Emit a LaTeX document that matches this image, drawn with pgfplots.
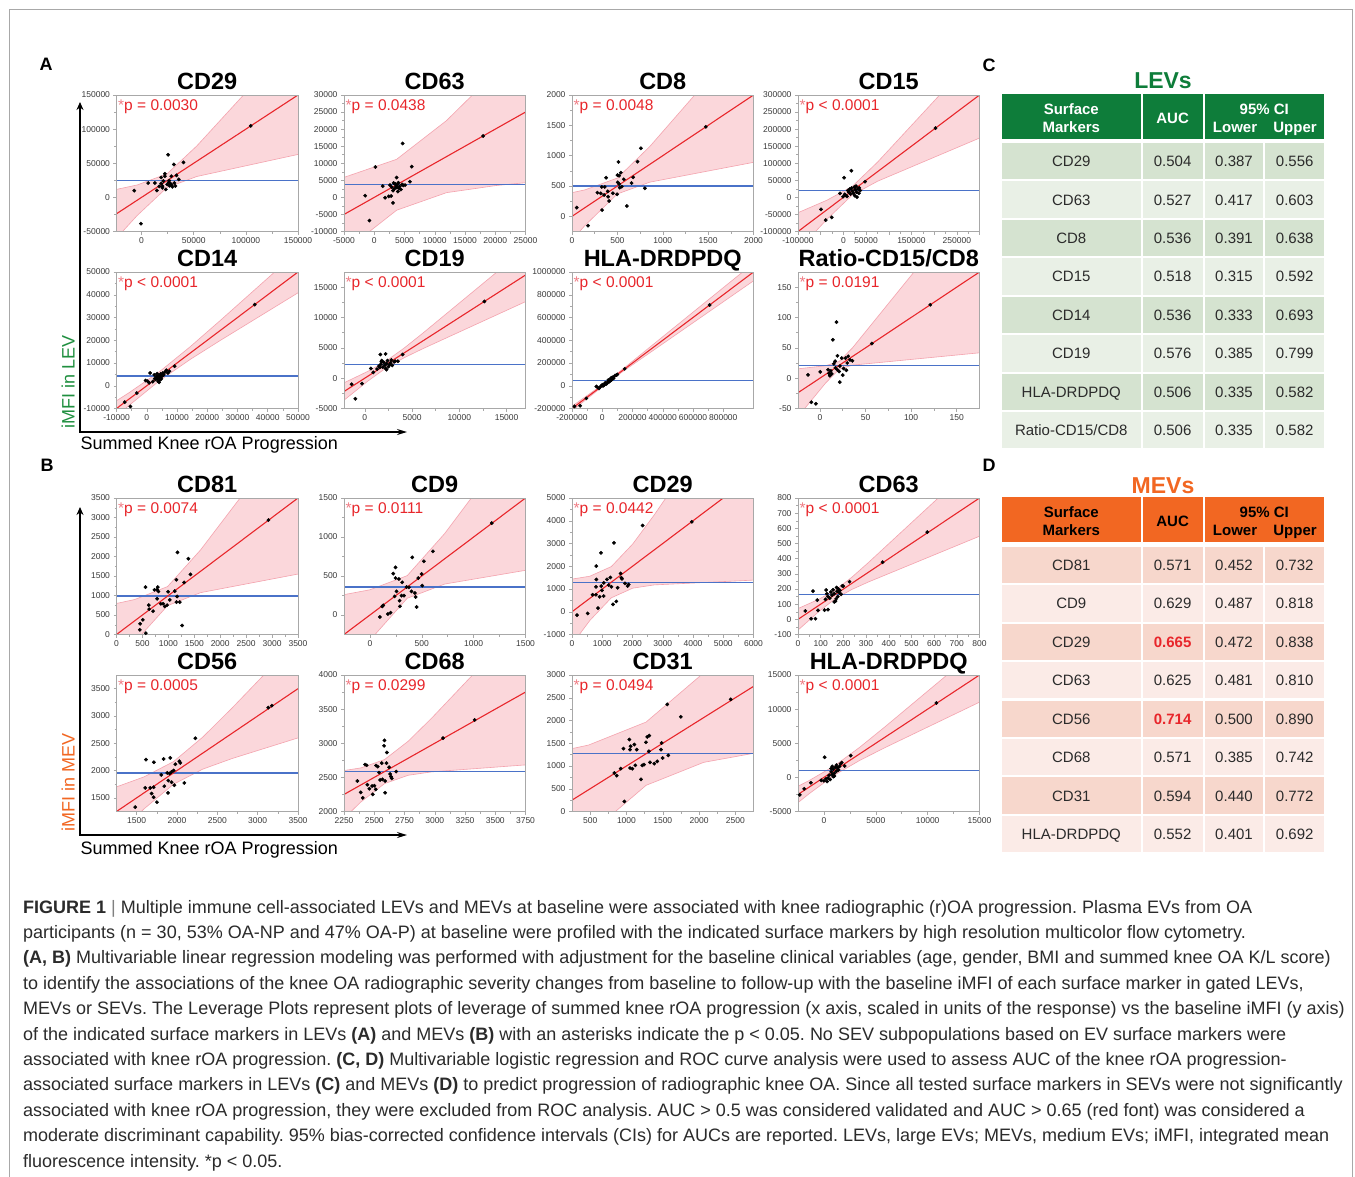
\documentclass[border=0pt]{standalone}
\usepackage{fontspec}
\setmainfont{Liberation Sans}
\newfontfamily\capfont{Liberation Sans}
\usepackage{pgfplots}
\pgfplotsset{compat=1.18}
\usetikzlibrary{arrows.meta}
\frenchspacing

\definecolor{fitred}{HTML}{E8262B}
\definecolor{astred}{HTML}{F07C84}
\definecolor{bandpink}{HTML}{F06070}
\definecolor{bandline}{HTML}{F4A3AE}
\definecolor{meanblue}{HTML}{4A72C8}
\definecolor{axgray}{HTML}{A8A8A8}
\definecolor{tickgray}{HTML}{3A3A3A}
\definecolor{framegray}{HTML}{A8A8A8}
\definecolor{captext}{HTML}{2B2B2B}
\definecolor{levgreen}{HTML}{0E7D3A}
\definecolor{levA}{HTML}{D5E3D0}
\definecolor{levB}{HTML}{E9F0E6}
\definecolor{mevorange}{HTML}{F26722}
\definecolor{mevA}{HTML}{F7D7CC}
\definecolor{mevB}{HTML}{FBEBE7}
\definecolor{levlab}{HTML}{1F8F3F}

\pgfplotsset{
  lev/.style={
    scale only axis, width=181.5pt, height=136.5pt, anchor=north west,
    axis on top,
    axis line style={draw=axgray, line width=0.7pt},
    tick align=outside, tick pos=left,
    major tick length=3pt, minor tick length=2pt, minor tick num=1,
    tick style={draw=axgray, line width=0.5pt},
    tick label style={font=\fontsize{8.5}{9}\selectfont, text=tickgray},
    scaled ticks=false,
    /pgf/number format/fixed, /pgf/number format/1000 sep={},
    /pgf/number format/assume math mode=true,
    title style={font=\fontsize{23.5}{24}\selectfont\bfseries, anchor=base, yshift=0pt},
  },
  meanline/.style={color=meanblue, line width=1.2pt},
  fitline/.style={color=fitred, line width=1.1pt},
  bline/.style={color=bandline, line width=0.6pt},
  bfill/.style={fill=bandpink, fill opacity=0.25, draw=none},
  dots/.style={only marks, mark=*, mark size=1.7pt, mark options={draw=black, fill=black}},
}
\newcommand{\pv}[1]{\node[anchor=base west, inner sep=0pt, xshift=1.5pt, yshift=-15.5pt,
  font=\fontsize{15.5}{16}\selectfont] at (rel axis cs:0,1) {\textcolor{astred}{*}\textcolor{fitred}{p #1}};}

\begin{document}
\begin{tikzpicture}
\begin{scope}[x=1pt,y=-1pt]
\useasboundingbox (0,0) rectangle (1355,1176);
\fill[white] (0,0) rectangle (1355,1176);
\draw[framegray, line width=1pt] (9.5,9.5) rectangle (1352.5,1220);
\end{scope}

% ---------------- panel A ----------------
\begin{axis}[lev, at={(116.5pt,-95pt)}, title={CD29},
  xmin=-24000, xmax=150000, ymin=-50000, ymax=150000,
  xtick={0,50000,100000,150000}, ytick={-50000,0,50000,100000,150000}]
\addplot[bfill] coordinates {(-24000,11700)(-4171,18189)(24400,34400)(52971,75331)(150000,237070)(150000,62930)(52971,30611)(24400,14400)(-4171,-26531)(-24000,-59700)} -- cycle;
\addplot[bline] coordinates {(-24000,11700)(-4171,18189)(24400,34400)(52971,75331)(150000,237070)};
\addplot[bline] coordinates {(-24000,-59700)(-4171,-26531)(24400,14400)(52971,30611)(150000,62930)};
\addplot[meanline] coordinates {(-24000,24400)(150000,24400)};
\addplot[fitline] coordinates {(-24000,-24000)(150000,150000)};
\addplot[dots] coordinates {(104700,104900)(-7000,9800)(-600,-38500)(6400,21000)(12800,21000)(14700,10200)(17000,16000)(18800,29300)(18800,20500)(20100,16600)(21000,24000)(22300,34600)(22300,31000)(23300,11700)(24600,19000)(25500,62400)(26000,22000)(27000,17000)(28000,20000)(28500,31000)(29000,18000)(29500,15500)(31000,48300)(31500,21000)(32500,16600)(33500,32200)(35700,26300)(40200,51200)(26500,24500)(20000,14000)};
\pv{= 0.0030}
\end{axis}

\begin{axis}[lev, at={(344pt,-95pt)}, title={CD63},
  xmin=-5000, xmax=25000, ymin=-10000, ymax=30000,
  xtick={-5000,0,5000,10000,15000,20000,25000}, ytick={-10000,-5000,0,5000,10000,15000,20000,25000,30000}]
\addplot[bfill] coordinates {(-5000,5860)(3700,11160)(11930,22480)(20160,36840)(25000,45700)(25000,4300)(20160,3480)(11930,1380)(3700,-3760)(-5000,-15860)} -- cycle;
\addplot[bline] coordinates {(-5000,5860)(3700,11160)(11930,22480)(20160,36840)(25000,45700)};
\addplot[bline] coordinates {(-5000,-15860)(3700,-3760)(11930,1380)(20160,3480)(25000,4300)};
\addplot[meanline] coordinates {(-5000,3700)(25000,3700)};
\addplot[fitline] coordinates {(-5000,-5000)(25000,25000)};
\addplot[dots] coordinates {(18000,18000)(-1500,500)(200,8900)(-800,-6800)(1800,-100)(2800,400)(1400,3300)(3100,-1600)(2600,3600)(3700,5800)(4700,15800)(6200,9000)(5900,4600)(5100,3600)(3300,2500)(3500,3900)(3700,2900)(3900,1700)(4000,4300)(4200,3200)(4400,2300)(4600,3800)(3600,3300)(2900,3000)(3100,2000)(4800,3500)(3200,4200)(4100,2600)(3800,3700)(2400,300)};
\pv{= 0.0438}
\end{axis}

\begin{axis}[lev, at={(572pt,-95pt)}, title={CD8},
  xmin=0, xmax=2000, ymin=-250, ymax=2000,
  xtick={0,500,1000,1500,2000}, ytick={0,500,1000,1500,2000}]
\addplot[bfill] coordinates {(0,390)(144,437)(500,631)(856,1149)(2000,3110)(2000,890)(856,563)(500,369)(144,-149)(0,-390)} -- cycle;
\addplot[bline] coordinates {(0,390)(144,437)(500,631)(856,1149)(2000,3110)};
\addplot[bline] coordinates {(0,-390)(144,-149)(500,369)(856,563)(2000,890)};
\addplot[meanline] coordinates {(0,500)(2000,500)};
\addplot[fitline] coordinates {(0,0)(2000,2000)};
\addplot[dots] coordinates {(1475,1475)(52,143)(177,-154)(280,390)(317,379)(328,484)(361,484)(376,637)(331,104)(354,352)(394,412)(398,324)(409,253)(497,363)(512,896)(501,681)(519,670)(519,533)(527,473)(549,489)(538,720)(571,610)(604,170)(656,549)(674,643)(722,901)(759,1121)(803,462)(450,380)(505,560)};
\pv{= 0.0048}
\end{axis}

\begin{axis}[lev, at={(798pt,-95pt)}, title={CD15},
  xmin=-100000, xmax=300000, ymin=-100000, ymax=300000,
  xtick={-100000,-50000,0,50000,100000,150000,200000,250000,300000},
  xticklabels={-100000,,0,50000,,150000,,250000,},
  ytick={-100000,-50000,0,50000,100000,150000,200000,250000,300000}]
\addplot[bfill] coordinates {(-100000,-44900)(-36180,-8230)(19500,32000)(75180,103130)(300000,426200)(300000,173800)(75180,47230)(19500,7000)(-36180,-64130)(-100000,-155100)} -- cycle;
\addplot[bline] coordinates {(-100000,-44900)(-36180,-8230)(19500,32000)(75180,103130)(300000,426200)};
\addplot[bline] coordinates {(-100000,-155100)(-36180,-64130)(19500,7000)(75180,47230)(300000,173800)};
\addplot[meanline] coordinates {(-100000,19500)(300000,19500)};
\addplot[fitline] coordinates {(-100000,-100000)(300000,300000)};
\addplot[dots] coordinates {(203000,203000)(-49200,-35200)(-38900,-66400)(-25700,-58600)(1500,57600)(-7300,11700)(-700,2000)(17600,78100)(47700,45900)(5000,6000)(8000,3000)(10000,20000)(12000,15000)(14000,24000)(16000,10000)(18000,27000)(20000,18000)(22000,12000)(24000,30000)(25000,5000)(26000,22000)(28000,33000)(29000,15000)(30000,1000)(32000,25000)(34000,12000)(35000,28000)(37000,20000)(3000,9000)};
\pv{< 0.0001}
\end{axis}

\begin{axis}[lev, at={(116.5pt,-272pt)}, title={CD14},
  xmin=-10000, xmax=50000, ymin=-10000, ymax=50000,
  xtick={-10000,0,10000,20000,30000,40000,50000}, ytick={-10000,0,10000,20000,30000,40000,50000}]
\addplot[bfill] coordinates {(-10000,-6590)(-5840,-3054)(4250,6220)(14340,17126)(24420,28825)(50000,59150)(50000,40850)(24420,20015)(14340,11554)(4250,2280)(-5840,-8626)(-10000,-13410)} -- cycle;
\addplot[bline] coordinates {(-10000,-6590)(-5840,-3054)(4250,6220)(14340,17126)(24420,28825)(50000,59150)};
\addplot[bline] coordinates {(-10000,-13410)(-5840,-8626)(4250,2280)(14340,11554)(24420,20015)(50000,40850)};
\addplot[meanline] coordinates {(-10000,4250)(50000,4250)};
\addplot[fitline] coordinates {(-10000,-10000)(50000,50000)};
\addplot[dots] coordinates {(35700,35700)(-7300,-7200)(-5400,-9100)(-3300,-3200)(-400,2300)(300,2000)(800,1300)(1100,5600)(2650,3100)(9200,8600)(2500,4800)(3000,2800)(3300,4000)(3600,3300)(3800,1900)(4000,4500)(4200,2500)(4400,3900)(4600,5200)(4800,3000)(5000,4200)(5300,5600)(5600,4800)(6000,6000)(6500,6800)(7000,5600)(7500,6400)(2000,1800)(4100,1500)(3400,5300)};
\pv{< 0.0001}
\end{axis}

\begin{axis}[lev, at={(344pt,-272pt)}, title={CD19},
  xmin=-2200, xmax=17000, ymin=-5000, ymax=17500,
  xtick={0,5000,10000,15000}, ytick={-5000,0,5000,10000,15000}]
\addplot[bfill] coordinates {(-2200,-770)(335,1134)(2250,2815)(4165,4964)(6080,7343)(17000,21390)(17000,12610)(6080,4817)(4165,3366)(2250,1685)(335,-464)(-2200,-3630)} -- cycle;
\addplot[bline] coordinates {(-2200,-770)(335,1134)(2250,2815)(4165,4964)(6080,7343)(17000,21390)};
\addplot[bline] coordinates {(-2200,-3630)(335,-464)(2250,1685)(4165,3366)(6080,4817)(17000,12610)};
\addplot[meanline] coordinates {(-2200,2250)(17000,2250)};
\addplot[fitline] coordinates {(-2200,-2200)(17000,17000)};
\addplot[dots] coordinates {(12650,12650)(-1400,-1000)(-1000,-3400)(-300,-900)(650,1600)(900,950)(1600,1800)(1650,3900)(2200,4000)(1750,2700)(4000,3900)(3500,2800)(1500,2000)(1700,2300)(1900,1800)(2000,2600)(2100,2100)(2200,1600)(2300,2400)(2400,2900)(2500,1900)(2600,2200)(2700,2500)(2800,3000)(2900,2100)(3100,2700)(3200,2800)(1800,2900)(2300,1400)(1300,1500)};
\pv{< 0.0001}
\end{axis}

\begin{axis}[lev, at={(572pt,-272pt)}, title={HLA-DRDPDQ},
  xmin=-200000, xmax=1000000, ymin=-200000, ymax=1000000,
  xtick={-200000,0,200000,400000,600000,800000}, ytick={-200000,0,200000,400000,600000,800000,1000000}]
\addplot[bfill] coordinates {(-200000,-179900)(-51300,-40000)(47000,55000)(145300,156600)(1000000,1077600)(1000000,922400)(145300,134000)(47000,39000)(-51300,-62600)(-200000,-220100)} -- cycle;
\addplot[bline] coordinates {(-200000,-179900)(-51300,-40000)(47000,55000)(145300,156600)(1000000,1077600)};
\addplot[bline] coordinates {(-200000,-220100)(-51300,-62600)(47000,39000)(145300,134000)(1000000,922400)};
\addplot[meanline] coordinates {(-200000,47000)(1000000,47000)};
\addplot[fitline] coordinates {(-200000,-200000)(1000000,1000000)};
\addplot[dots] coordinates {(710000,710000)(-183600,-181500)(-146000,-176000)(-105000,-111000)(-39000,-6000)(-22000,-23000)(0,9000)(148600,149300)(-30000,-15000)(-10000,-5000)(10000,5000)(20000,25000)(25000,15000)(35000,30000)(40000,50000)(45000,35000)(50000,55000)(55000,45000)(60000,70000)(65000,60000)(70000,75000)(75000,65000)(85000,90000)(95000,95000)(100000,100000)(30000,20000)(5000,-2000)(15000,10000)(60000,50000)};
\pv{< 0.0001}
\end{axis}

\begin{axis}[lev, at={(798pt,-272pt)}, title={Ratio-CD15/CD8},
  xmin=-24, xmax=175, ymin=-50, ymax=175,
  xtick={0,50,100,150}, ytick={-50,0,50,100,150}]
\addplot[bfill] coordinates {(-24,15.4)(6.2,20.5)(21,27.4)(35.8,50.1)(175,308.2)(175,41.8)(35.8,21.5)(21,14.6)(6.2,-8.1)(-24,-63.4)} -- cycle;
\addplot[bline] coordinates {(-24,15.4)(6.2,20.5)(21,27.4)(35.8,50.1)(175,308.2)};
\addplot[bline] coordinates {(-24,-63.4)(6.2,-8.1)(21,14.6)(35.8,21.5)(175,41.8)};
\addplot[meanline] coordinates {(-24,21)(175,21)};
\addplot[fitline] coordinates {(-24,-24)(175,175)};
\addplot[dots] coordinates {(121,121)(57,57)(-13,5.5)(-9.4,-39.6)(-4.4,-42.3)(0.4,10.4)(14.2,63.2)(18.2,92.3)(19.2,36.8)(16.7,28)(15.3,23.6)(21.8,-6.6)(35.6,28.6)(9,14)(10,8)(11,4)(12,12)(13,7)(17,17)(19,14)(21,11)(22,20)(24,33)(25,5)(26,16)(28,33)(29,13)(30,25)(31,36)(33,30)};
\pv{= 0.0191}
\end{axis}

% ---------------- panel B ----------------
\begin{axis}[lev, at={(116.5pt,-498pt)}, title={CD81},
  xmin=0, xmax=3500, ymin=0, ymax=3500,
  xtick={0,500,1000,1500,2000,2500,3000,3500}, ytick={0,500,1000,1500,2000,2500,3000,3500}]
\addplot[bfill] coordinates {(0,796)(351,897)(985,1229)(1619,2165)(3500,5450)(3500,1550)(1619,1073)(985,741)(351,-195)(0,-796)} -- cycle;
\addplot[bline] coordinates {(0,796)(351,897)(985,1229)(1619,2165)(3500,5450)};
\addplot[bline] coordinates {(0,-796)(351,-195)(985,741)(1619,1073)(3500,1550)};
\addplot[meanline] coordinates {(0,985)(3500,985)};
\addplot[fitline] coordinates {(0,0)(3500,3500)};
\addplot[dots] coordinates {(2930,2935)(450,120)(456,274)(507,377)(565,34)(559,1216)(623,753)(629,651)(706,599)(732,1147)(783,916)(783,1147)(796,1216)(809,1104)(854,788)(899,788)(931,719)(976,753)(995,1096)(1027,890)(1124,1113)(1156,1404)(1169,976)(1175,2106)(1156,831)(1220,831)(1265,231)(1387,1943)(1304,1336)(1426,1541)};
\pv{= 0.0074}
\end{axis}

\begin{axis}[lev, at={(344pt,-498pt)}, title={CD9},
  xmin=-250, xmax=1500, ymin=-250, ymax=1500,
  xtick={0,500,1000,1500}, ytick={0,500,1000,1500}]
\addplot[bfill] coordinates {(-250,261)(-1,323)(360,505)(721,1045)(1500,2427)(1500,573)(721,397)(360,215)(-1,-325)(-250,-761)} -- cycle;
\addplot[bline] coordinates {(-250,261)(-1,323)(360,505)(721,1045)(1500,2427)};
\addplot[bline] coordinates {(-250,-761)(-1,-325)(360,215)(721,397)(1500,573)};
\addplot[meanline] coordinates {(-250,360)(1500,360)};
\addplot[fitline] coordinates {(-250,-250)(1500,1500)};
\addplot[dots] coordinates {(1175,1178)(96,-26)(119,111)(128,124)(173,13)(199,30)(225,530)(247,611)(247,474)(238,239)(257,303)(279,462)(286,184)(289,111)(305,248)(311,419)(328,248)(353,359)(376,355)(401,303)(408,739)(434,282)(440,231)(450,103)(466,474)(498,526)(504,376)(520,688)(607,816)};
\pv{= 0.0111}
\end{axis}

\begin{axis}[lev, at={(572pt,-498pt)}, title={CD29},
  xmin=0, xmax=6000, ymin=-1000, ymax=5000,
  xtick={0,1000,2000,3000,4000,5000,6000}, ytick={-1000,0,1000,2000,3000,4000,5000}]
\addplot[bfill] coordinates {(0,1435)(593,1563)(1300,1986)(2007,2977)(2714,4248)(6000,10609)(6000,1391)(2714,1180)(2007,1037)(1300,614)(593,-377)(0,-1435)} -- cycle;
\addplot[bline] coordinates {(0,1435)(593,1563)(1300,1986)(2007,2977)(2714,4248)(6000,10609)};
\addplot[bline] coordinates {(0,-1435)(593,-377)(1300,614)(2007,1037)(2714,1180)(6000,1391)};
\addplot[meanline] coordinates {(0,1300)(6000,1300)};
\addplot[fitline] coordinates {(0,0)(6000,6000)};
\addplot[dots] coordinates {(3960,3955)(165,-146)(518,-73)(804,2006)(793,747)(683,747)(804,1420)(793,1098)(859,161)(914,659)(958,2592)(969,1127)(991,937)(1046,688)(1211,1171)(1267,1508)(1300,1098)(1355,322)(1388,3031)(1465,454)(1509,1054)(1608,1684)(1630,1493)(1652,1449)(1751,1245)(1839,1127)(1872,1200)(2335,3792)(1050,1273)(1156,1420)};
\pv{= 0.0442}
\end{axis}

\begin{axis}[lev, at={(798pt,-498pt)}, title={CD63},
  xmin=0, xmax=800, ymin=-100, ymax=800,
  xtick={0,100,200,300,400,500,600,700,800}, ytick={-100,0,100,200,300,400,500,600,700,800}]
\addplot[bfill] coordinates {(0,71)(93,133.2)(165,193.4)(237,277.2)(309,372.5)(800,1052)(800,548)(309,245.5)(237,196.8)(165,136.6)(93,52.8)(0,-71)} -- cycle;
\addplot[bline] coordinates {(0,71)(93,133.2)(165,193.4)(237,277.2)(309,372.5)(800,1052)};
\addplot[bline] coordinates {(0,-71)(93,52.8)(165,136.6)(237,196.8)(309,245.5)(800,548)};
\addplot[meanline] coordinates {(0,165)(800,165)};
\addplot[fitline] coordinates {(0,0)(800,800)};
\addplot[dots] coordinates {(570,575)(373,377)(32,55)(58,4)(66,186)(77,4)(85,127)(88,59)(117,61)(121,132)(124,193)(132,64)(127,169)(132,150)(140,140)(145,180)(150,160)(155,195)(160,170)(165,120)(168,135)(170,210)(172,185)(175,150)(178,200)(182,175)(185,190)(190,165)(195,220)(160,115)(200,219)(227,248)};
\pv{< 0.0001}
\end{axis}

\begin{axis}[lev, at={(116.5pt,-675pt)}, title={CD56},
  xmin=1250, xmax=3500, ymin=1250, ymax=3750,
  xtick={1500,2000,2500,3000,3500}, ytick={1500,2000,2500,3000,3500}]
\addplot[bfill] coordinates {(1250,1701)(1591,1884)(1955,2162)(2319,2612)(2684,3147)(3500,4402)(3500,2598)(2684,2221)(2319,2026)(1955,1748)(1591,1298)(1250,799)} -- cycle;
\addplot[bline] coordinates {(1250,1701)(1591,1884)(1955,2162)(2319,2612)(2684,3147)(3500,4402)};
\addplot[bline] coordinates {(1250,799)(1591,1298)(1955,1748)(2319,2026)(2684,2221)(3500,2598)};
\addplot[meanline] coordinates {(1250,1955)(3500,1955)};
\addplot[fitline] coordinates {(1250,1250)(3500,3500)};
\addplot[dots] coordinates {(3131,3152)(3176,3189)(1482,1329)(1606,1683)(1615,2201)(1668,1683)(1685,1579)(1710,1695)(1710,1512)(1714,2152)(1751,1421)(1805,1921)(1834,2213)(1842,1713)(1880,1957)(1888,1591)(1892,1817)(1909,1945)(1917,2232)(1933,1976)(1933,1787)(1958,2000)(1967,1732)(1979,2116)(2029,2171)(2041,2140)(2091,1774)(2228,2591)};
\pv{= 0.0005}
\end{axis}

\begin{axis}[lev, at={(344pt,-675pt)}, title={CD68},
  xmin=2250, xmax=3750, ymin=2000, ymax=4000,
  xtick={2250,2500,2750,3000,3250,3500,3750}, ytick={2000,2500,3000,3500,4000}]
\addplot[bfill] coordinates {(2250,2600)(2390,2639)(2585,2761)(2780,3029)(2975,3369)(3750,4817)(3750,2683)(2975,2581)(2780,2531)(2585,2409)(2390,2141)(2250,1900)} -- cycle;
\addplot[bline] coordinates {(2250,2600)(2390,2639)(2585,2761)(2780,3029)(2975,3369)(3750,4817)};
\addplot[bline] coordinates {(2250,1900)(2390,2141)(2585,2409)(2780,2531)(2975,2581)(3750,2683)};
\addplot[meanline] coordinates {(2250,2585)(3750,2585)};
\addplot[fitline] coordinates {(2250,2250)(3750,3750)};
\addplot[dots] coordinates {(3330,3342)(3068,3076)(2360,2447)(2388,2280)(2405,2201)(2424,2688)(2438,2678)(2443,2393)(2460,2334)(2482,2373)(2488,2251)(2501,2378)(2512,2324)(2515,2673)(2529,2659)(2540,2570)(2548,2462)(2562,2708)(2568,2472)(2581,2963)(2584,3042)(2590,2447)(2590,2275)(2601,2708)(2604,2865)(2623,2649)(2631,2550)(2639,2511)(2645,2486)(2681,2585)};
\pv{= 0.0299}
\end{axis}

\begin{axis}[lev, at={(572pt,-675pt)}, title={CD31},
  xmin=250, xmax=2750, ymin=0, ymax=3000,
  xtick={500,1000,1500,2000,2500}, ytick={0,500,1000,1500,2000,2500,3000}]
\addplot[bfill] coordinates {(250,1382)(477,1460)(1270,1965)(2063,3046)(2750,4221)(2750,1279)(2063,1080)(1270,575)(477,-506)(250,-882)} -- cycle;
\addplot[bline] coordinates {(250,1382)(477,1460)(1270,1965)(2063,3046)(2750,4221)};
\addplot[bline] coordinates {(250,-882)(477,-506)(1270,575)(2063,1080)(2750,1279)};
\addplot[meanline] coordinates {(250,1270)(2750,1270)};
\addplot[fitline] coordinates {(250,250)(2750,2750)};
\addplot[dots] coordinates {(2436,2463)(834,846)(866,787)(921,941)(958,1382)(971,221)(1040,1581)(1049,1360)(1058,1434)(1049,956)(1081,941)(1109,1471)(1122,1015)(1141,1360)(1200,706)(1218,1015)(1242,1029)(1269,1522)(1287,1640)(1315,1669)(1310,1324)(1324,1081)(1383,1051)(1424,1103)(1475,1360)(1485,1507)(1498,1176)(1562,2353)(1576,1235)(1749,2081)};
\pv{= 0.0494}
\end{axis}

\begin{axis}[lev, at={(798pt,-675pt)}, title={HLA-DRDPDQ},
  xmin=-2500, xmax=15000, ymin=-5000, ymax=15000,
  xtick={0,5000,10000,15000}, ytick={-5000,0,5000,10000,15000}]
\addplot[bfill] coordinates {(-2500,-1300)(-1383,-424)(1030,1708)(3443,4402)(5856,7372)(15000,18980)(15000,11020)(5856,4340)(3443,2484)(1030,352)(-1383,-2342)(-2500,-3700)} -- cycle;
\addplot[bline] coordinates {(-2500,-1300)(-1383,-424)(1030,1708)(3443,4402)(5856,7372)(15000,18980)};
\addplot[bline] coordinates {(-2500,-3700)(-1383,-2342)(1030,352)(3443,2484)(5856,4340)(15000,11020)};
\addplot[meanline] coordinates {(-2500,1030)(15000,1030)};
\addplot[fitline] coordinates {(-2500,-2500)(15000,15000)};
\addplot[dots] coordinates {(10850,10900)(-2324,-2559)(-1904,-1673)(-1259,-787)(-258,-443)(65,2953)(1711,2165)(2001,1673)(2582,3199)(0,-500)(200,-200)(300,-600)(400,-100)(500,300)(600,-300)(700,800)(800,400)(900,1200)(1000,600)(1100,1500)(1200,900)(1300,1400)(1400,1100)(1500,1600)(1600,2000)(800,1600)(900,100)(1200,1800)(1000,200)(700,1300)};
\pv{< 0.0001}
\end{axis}

\begin{scope}[x=1pt,y=-1pt]
% ---------------- axis arrows and labels ----------------
\draw[line width=1.3pt, {Stealth[length=8pt,width=7pt]}-{Stealth[length=10pt,width=6pt]}] (80,102) -- (80,432) -- (407,432);
\draw[line width=1.3pt, {Stealth[length=8pt,width=7pt]}-{Stealth[length=10pt,width=6pt]}] (80,507) -- (80,835) -- (407,835);
\node[anchor=base west, inner sep=0pt, font=\fontsize{18}{20}\selectfont] at (80.5,449.5) {Summed Knee rOA Progression};
\node[anchor=base west, inner sep=0pt, font=\fontsize{18}{20}\selectfont] at (80.5,854) {Summed Knee rOA Progression};
\node[rotate=90, inner sep=0pt, font=\fontsize{18}{20}\selectfont, text=levlab] at (68,382) {iMFI in LEV};
\node[rotate=90, inner sep=0pt, font=\fontsize{18}{20}\selectfont, text=mevorange] at (68,782) {iMFI in MEV};
\node[font=\fontsize{18}{20}\selectfont\bfseries] at (46,64.5) {A};
\node[font=\fontsize{18}{20}\selectfont\bfseries] at (47,465) {B};
\node[font=\fontsize{18}{20}\selectfont\bfseries] at (989,65) {C};
\node[font=\fontsize{18}{20}\selectfont\bfseries] at (989,465) {D};

% ---------------- table C (LEVs) ----------------
\node[anchor=base, font=\fontsize{23}{24}\selectfont\bfseries, text=levgreen] at (1163,88.5) {LEVs};
\fill[levgreen] (1002,94.3) rectangle (1140.6,139.3);
\fill[levgreen] (1142.6,94.3) rectangle (1202.6,139.3);
\fill[levgreen] (1204.6,94.3) rectangle (1324,139.3);
\begin{scope}[font=\fontsize{15}{16}\selectfont\bfseries, text=white, inner sep=0pt]
\node[anchor=base] at (1071.3,114.7) {Surface};
\node[anchor=base] at (1071.3,132.1) {Markers};
\node[anchor=base] at (1172.6,123.4) {AUC};
\node[anchor=base] at (1264.3,114.7) {95\% CI};
\node[anchor=base] at (1235,132.1) {Lower};
\node[anchor=base] at (1295,132.1) {Upper};
\end{scope}
\foreach \i/\c/\n/\a/\l/\u in {0/levA/CD29/0.504/0.387/0.556, 1/levB/CD63/0.527/0.417/0.603,
  2/levA/CD8/0.536/0.391/0.638, 3/levB/CD15/0.518/0.315/0.592, 4/levA/CD14/0.536/0.333/0.693,
  5/levB/CD19/0.576/0.385/0.799, 6/levA/HLA-DRDPDQ/0.506/0.335/0.582, 7/levB/Ratio-CD15\slash CD8/0.506/0.335/0.582}{
  \pgfmathsetmacro\t{143+38.45*\i}
  \fill[\c] (1002,\t) rectangle (1140.6,\t+36.3);
  \fill[\c] (1142.6,\t) rectangle (1202.6,\t+36.3);
  \fill[\c] (1204.6,\t) rectangle (1263.4,\t+36.3);
  \fill[\c] (1265.4,\t) rectangle (1324,\t+36.3);
  \begin{scope}[font=\fontsize{15}{16}\selectfont, text=captext, inner sep=0pt]
  \node[anchor=base] at (1071.3,\t+23.6) {\n};
  \node[anchor=base] at (1172.6,\t+23.6) {\a};
  \node[anchor=base] at (1234,\t+23.6) {\l};
  \node[anchor=base] at (1294.7,\t+23.6) {\u};
  \end{scope}
}

% ---------------- table D (MEVs) ----------------
\node[anchor=base, font=\fontsize{23}{24}\selectfont\bfseries, text=mevorange] at (1163,493) {MEVs};
\fill[mevorange] (1002,496.7) rectangle (1140.6,541.7);
\fill[mevorange] (1142.6,496.7) rectangle (1202.6,541.7);
\fill[mevorange] (1204.6,496.7) rectangle (1324,541.7);
\begin{scope}[font=\fontsize{15}{16}\selectfont\bfseries, text=black, inner sep=0pt]
\node[anchor=base] at (1071.3,517.1) {Surface};
\node[anchor=base] at (1071.3,535.4) {Markers};
\node[anchor=base] at (1172.6,526.4) {AUC};
\node[anchor=base] at (1264.3,517.1) {95\% CI};
\node[anchor=base] at (1235,535.4) {Lower};
\node[anchor=base] at (1295,535.4) {Upper};
\end{scope}
\foreach \i/\c/\n/\a/\l/\u in {0/mevA/CD81/0.571/0.452/0.732, 1/mevB/CD9/0.629/0.487/0.818,
  2/mevA/CD29/{\textcolor{fitred}{\bfseries 0.665}}/0.472/0.838, 3/mevB/CD63/0.625/0.481/0.810,
  4/mevA/CD56/{\textcolor{fitred}{\bfseries 0.714}}/0.500/0.890, 5/mevB/CD68/0.571/0.385/0.742,
  6/mevA/CD31/0.594/0.440/0.772, 7/mevB/HLA-DRDPDQ/0.552/0.401/0.692}{
  \pgfmathsetmacro\t{546.85+38.43*\i}
  \fill[\c] (1002,\t) rectangle (1140.6,\t+36.3);
  \fill[\c] (1142.6,\t) rectangle (1202.6,\t+36.3);
  \fill[\c] (1204.6,\t) rectangle (1263.4,\t+36.3);
  \fill[\c] (1265.4,\t) rectangle (1324,\t+36.3);
  \begin{scope}[font=\fontsize{15}{16}\selectfont, text=captext, inner sep=0pt]
  \node[anchor=base] at (1071.3,\t+23.6) {\n};
  \node[anchor=base] at (1172.6,\t+23.6) {\a};
  \node[anchor=base] at (1234,\t+23.6) {\l};
  \node[anchor=base] at (1294.7,\t+23.6) {\u};
  \end{scope}
}

% ---------------- caption ----------------
\begin{scope}[every node/.style={anchor=base west, inner sep=0pt, text=captext,
    font=\capfont\fontsize{18}{20}\selectfont}]
\node at (23,913) {\textbf{FIGURE 1} \textcolor{gray}{|} Multiple immune cell-associated LEVs and MEVs at baseline were associated with knee radiographic (r)OA progression. Plasma EVs from OA};
\node at (23,938.4) {participants (n = 30, 53\% OA-NP and 47\% OA-P) at baseline were profiled with the indicated surface markers by high resolution multicolor flow cytometry.};
\node at (23,963.8) {\textbf{(A, B)} Multivariable linear regression modeling was performed with adjustment for the baseline clinical variables (age, gender, BMI and summed knee OA K/L score)};
\node at (23,989.2) {to identify the associations of the knee OA radiographic severity changes from baseline to follow-up with the baseline iMFI of each surface marker in gated LEVs,};
\node at (23,1014.6) {MEVs or SEVs. The Leverage Plots represent plots of leverage of summed knee rOA progression (x axis, scaled in units of the response) vs the baseline iMFI (y axis)};
\node at (23,1040) {of the indicated surface markers in LEVs \textbf{(A)} and MEVs \textbf{(B)} with an asterisks indicate the p < 0.05. No SEV subpopulations based on EV surface markers were};
\node at (23,1065.4) {associated with knee rOA progression. \textbf{(C, D)} Multivariable logistic regression and ROC curve analysis were used to assess AUC of the knee rOA progression-};
\node at (23,1090.8) {associated surface markers in LEVs \textbf{(C)} and MEVs \textbf{(D)} to predict progression of radiographic knee OA. Since all tested surface markers in SEVs were not significantly};
\node at (23,1116.2) {associated with knee rOA progression, they were excluded from ROC analysis. AUC > 0.5 was considered validated and AUC > 0.65 (red font) was considered a};
\node at (23,1141.6) {moderate discriminant capability. 95\% bias-corrected confidence intervals (CIs) for AUCs are reported. LEVs, large EVs; MEVs, medium EVs; iMFI, integrated mean};
\node at (23,1167) {fluorescence intensity. *p < 0.05.};
\end{scope}
\end{scope}
\end{tikzpicture}
\end{document}
